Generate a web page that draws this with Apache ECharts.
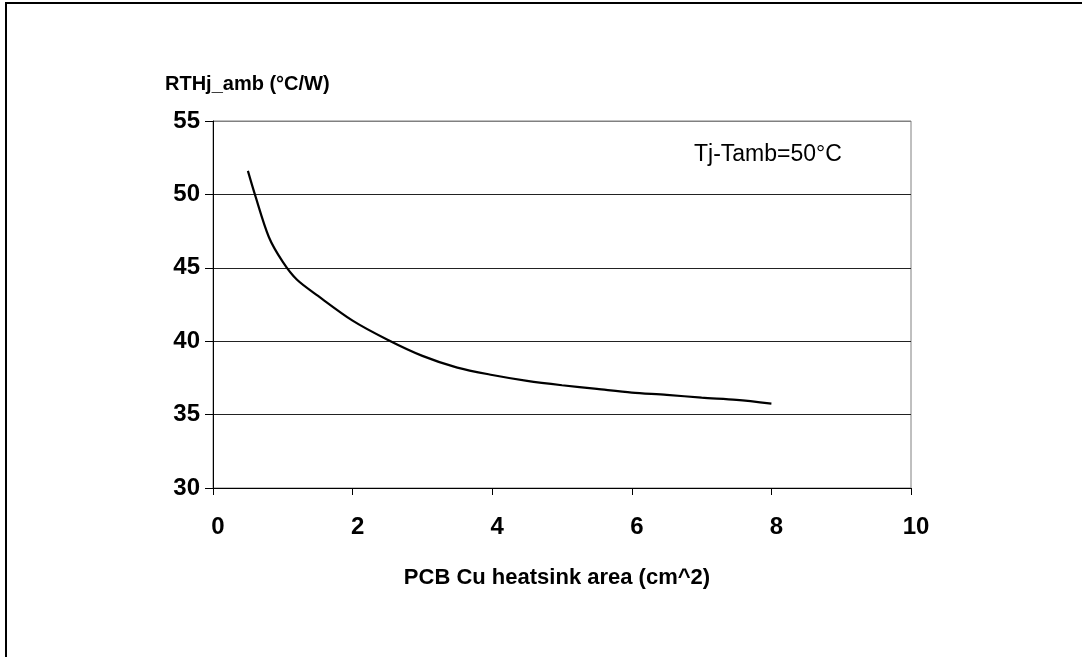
<!DOCTYPE html>
<html>
<head>
<meta charset="utf-8">
<script src="https://cdn.jsdelivr.net/npm/echarts@6/dist/echarts.min.js"></script>
<style>
html,body{margin:0;padding:0;background:#fff;}
#chart{width:1082px;height:657px;}
</style>
</head>
<body>
<div id="chart"></div>
<script>
// Data
var area = [0.5, 0.6, 0.8, 1.0, 1.2, 1.5, 2.0, 2.5, 3.0, 3.5, 4.0, 4.5, 5.0, 5.5, 6.0, 6.5, 7.0, 7.5, 8.0];
var rth  = [51.6, 50.0, 47.1, 45.4, 44.2, 43.1, 41.4, 40.1, 39.0, 38.2, 37.7, 37.3, 37.0, 36.75, 36.5, 36.35, 36.15, 36.0, 35.75];
var yAxisTitle = 'RTHj_amb (°C/W)';
var xAxisTitle = 'PCB Cu heatsink area (cm^2)';
var note = 'Tj-Tamb=50°C';

var points = area.map(function (x, i) { return [x, rth[i]]; });
var font = '"Liberation Sans", Arial, Helvetica, sans-serif';

var chart = echarts.init(document.getElementById('chart'), null, {renderer: 'canvas'});
chart.setOption({
  animation: false,
  backgroundColor: '#ffffff',
  grid: {
    left: 213, top: 121, width: 698, height: 367,
    show: true, borderColor: '#808080', borderWidth: 1, backgroundColor: 'transparent'
  },
  xAxis: {
    type: 'value', min: 0, max: 10, interval: 2,
    name: xAxisTitle, nameLocation: 'middle', nameGap: 79,
    nameTextStyle: {fontFamily: font, fontWeight: 'bold', fontSize: 22, color: '#000', padding: [0, 10, 0, 0]},
    axisLine: {show: true, onZero: false, lineStyle: {color: '#000', width: 1}},
    axisTick: {show: true, inside: false, length: 7, lineStyle: {color: '#000'}},
    axisLabel: {fontFamily: font, fontWeight: 'bold', fontSize: 24, color: '#000', margin: 27, padding: [0, 0, 0, 10]},
    splitLine: {show: false}
  },
  yAxis: {
    type: 'value', min: 30, max: 55, interval: 5,
    axisLine: {show: true, lineStyle: {color: '#000', width: 1}},
    axisTick: {show: true, inside: false, length: 8, lineStyle: {color: '#000'}},
    axisLabel: {fontFamily: font, fontWeight: 'bold', fontSize: 24, color: '#000', margin: 13, padding: [4, 0, 0, 0]},
    splitLine: {show: true, lineStyle: {color: ['#000', '#222', '#222', '#222', '#222', '#808080'], width: 1}}
  },
  series: [{
    type: 'line',
    data: points,
    smooth: 0.3,
    showSymbol: false,
    lineStyle: {color: '#000', width: 2.2},
    z: 5
  }],
  graphic: [
    {type: 'rect', shape: {x: 6, y: 3, width: 1300, height: 900}, style: {fill: 'none', stroke: '#000', lineWidth: 2}, silent: true},
    {type: 'text', left: 165, top: 74, style: {text: yAxisTitle, font: 'bold 20px ' + font, fill: '#000'}},
    {type: 'text', left: 694, top: 143, style: {text: note, font: '23px ' + font, fill: '#000'}}
  ]
});
</script>
</body>
</html>
